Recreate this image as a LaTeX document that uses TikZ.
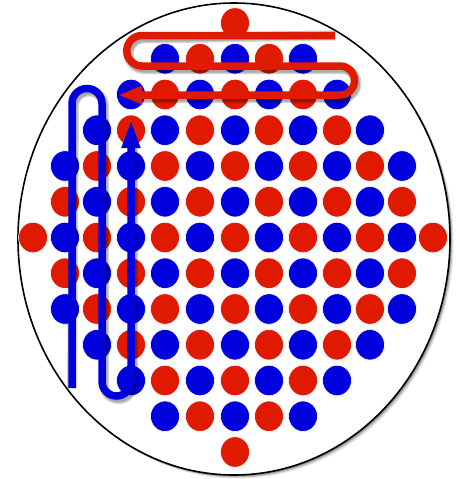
\documentclass[tikz,border=0pt]{standalone}
\usetikzlibrary{arrows.meta,shapes.geometric}
\definecolor{dotred}{RGB}{224,26,0}
\definecolor{dotblue}{RGB}{0,0,221}
\tikzset{
  wafer/.style={draw=black, line width=1.6pt, fill=white},
  waferShadow/.style={fill=black, opacity=#1},
  dotstyle/.style={ellipse, minimum width=29pt, minimum height=30.5pt, inner sep=0pt, draw=white, line width=0.6pt},
  redpath/.style={draw=dotred, line width=7.5pt},
  bluepath/.style={draw=dotblue, line width=7.5pt},
  pathshadow/.style={draw=black, line width=#1, opacity=0.18},
}
\begin{document}
\begin{tikzpicture}[x=1pt,y=1pt]
\useasboundingbox (0,0) rectangle (460,-479);
% wafer shadow
\foreach \o/\a in {3.5/0.10,2.5/0.15,1.5/0.25}{
  \fill[waferShadow=\a] (234+\o,-239-\o) ellipse[x radius=216, y radius=236];
}
\path[wafer] (234,-239) ellipse[x radius=216, y radius=236];
% dots
\def\xs{{33,65,97,131,165,200,235,269,303,337,370,402,433}}
\foreach \r/\h in {0/0,1/2,2/3,3/4,4/5,5/5,6/6,7/5,8/5,9/4,10/3,11/2,12/0}{
  \foreach \c in {-\h,...,\h}{
    \pgfmathsetmacro{\px}{\xs[\c+6]}
    \pgfmathsetmacro{\py}{-23-35.75*\r}
    \pgfmathtruncatemacro{\parity}{mod(\r+\c+20,2)}
    \ifnum\parity=0
      \node[dotstyle, fill=dotred] (d-\r-\c) at (\px,\py) {};
    \else
      \node[dotstyle, fill=dotblue] (d-\r-\c) at (\px,\py) {};
    \fi
  }
}
% red serpentine
\coordinate (rs) at (335,-35.5);
\coordinate (re) at (118,-95);
\begin{scope}[shift={(2,-3)}]
\foreach \w in {10pt,7pt}{
\draw[pathshadow=\w] (rs) -- (142,-35.5) arc[start angle=90, end angle=270, radius=15.25]
  -- (340,-66) arc[start angle=90, end angle=-90, radius=14.5] -- (140,-95);
}
\end{scope}
\draw[redpath, -{Triangle[length=24pt,width=17pt]}] (rs) -- (142,-35.5)
  arc[start angle=90, end angle=270, radius=15.25]
  -- (340,-66) arc[start angle=90, end angle=-90, radius=14.5] -- (re);
% blue serpentine
\coordinate (bs) at (72,-388);
\coordinate (be) at (131,-120);
\begin{scope}[shift={(2,-3)}]
\foreach \w in {10pt,7pt}{
\draw[pathshadow=\w] (bs) -- (72,-103.5) arc[start angle=180, end angle=0, radius=15]
  -- (102,-381.5) arc[start angle=180, end angle=360, radius=14.5] -- (131,-145);
}
\end{scope}
\draw[bluepath, -{Triangle[length=28pt,width=17pt]}] (bs) -- (72,-103.5)
  arc[start angle=180, end angle=0, radius=15]
  -- (102,-381.5) arc[start angle=180, end angle=360, radius=14.5] -- (be);
\end{tikzpicture}
\end{document}
